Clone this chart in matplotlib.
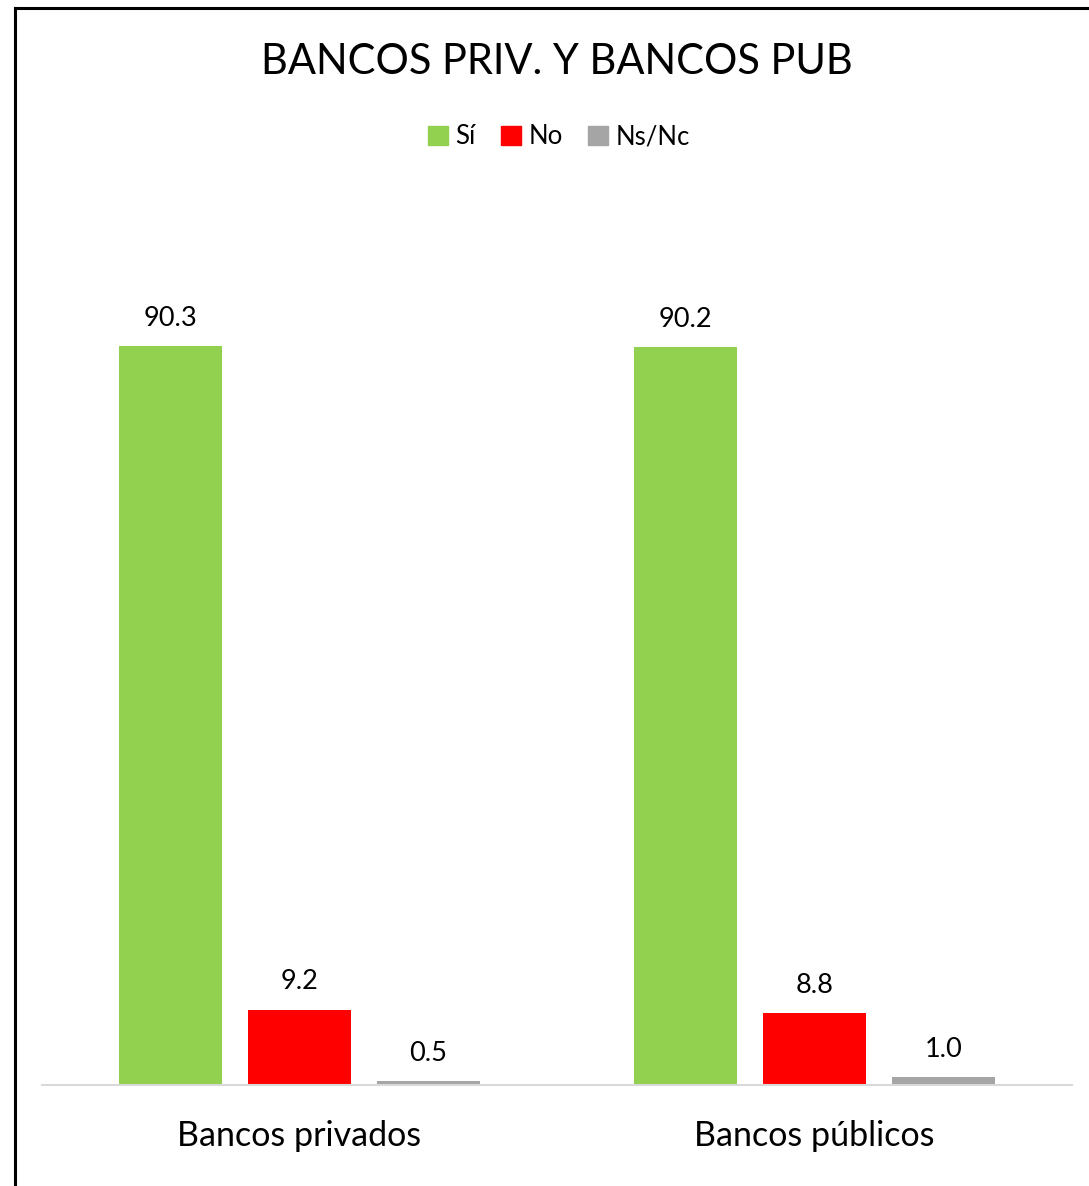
import matplotlib
matplotlib.use("Agg")
import matplotlib.pyplot as plt
import numpy as np
from matplotlib.lines import Line2D

categories = ["Bancos privados", "Bancos públicos"]
series_names = ["Sí", "No", "Ns/Nc"]
si_vals = [90.3, 90.2]
no_vals = [9.2, 8.8]
nsnc_vals = [0.5, 1.0]
colors = ["#92D050", "#FF0000", "#A5A5A5"]

W, H = 1089, 1186
fig = plt.figure(figsize=(W / 100, H / 100), dpi=100)
plt.rcParams['font.family'] = ['Lato', 'DejaVu Sans']

ax = fig.add_axes([42 / W, 1 - 1085 / H, (1072 - 42) / W, (1085 - 267) / H])

x = np.arange(len(categories))
bw = 0.2
step = 0.25
for i, (vals, name, c) in enumerate(zip([si_vals, no_vals, nsnc_vals], series_names, colors)):
    pos = x + (i - 1) * step
    bars = ax.bar(pos, vals, width=bw, color=c, label=name, zorder=2)
    for b, v in zip(bars, vals):
        ax.annotate(f"{v:.1f}", (b.get_x() + b.get_width() / 2, b.get_height()),
                    xytext=(0, 11), textcoords="offset points", ha="center", va="bottom",
                    fontsize=19.5, color="#000000")

ax.set_xlim(-0.5, 1.5)
ax.set_ylim(0, 100)
ax.set_yticks([])
ax.set_xticks(x)
ax.set_xticklabels(categories, fontsize=24.5)
ax.tick_params(axis="x", length=0, pad=25)
for s in ["top", "right", "left"]:
    ax.spines[s].set_visible(False)
ax.spines["bottom"].set_color("#D9D9D9")
ax.spines["bottom"].set_linewidth(1.5)

fig.text(557 / W, 1 - 62 / H, "BANCOS PRIV. Y BANCOS PUB", ha="center", va="center", fontsize=30)

handles = [plt.Rectangle((0, 0), 1, 1, color=c) for c in colors]
fig.legend(handles, series_names, loc="center", bbox_to_anchor=(559 / W, 1 - 137 / H),
           ncol=3, frameon=False, fontsize=18.5, handlelength=0.75, handleheight=0.75,
           handletextpad=0.3, columnspacing=1.0)

# outer border (partial frame)
fig.add_artist(Line2D([15 / W, 15 / W], [0, 1 - 8 / H], transform=fig.transFigure,
                      color="black", linewidth=2.2, solid_capstyle="projecting"))
fig.add_artist(Line2D([15 / W, 1], [1 - 8 / H, 1 - 8 / H], transform=fig.transFigure,
                      color="black", linewidth=2.2, solid_capstyle="projecting"))

fig.savefig("out.png", dpi=100, facecolor="white")
